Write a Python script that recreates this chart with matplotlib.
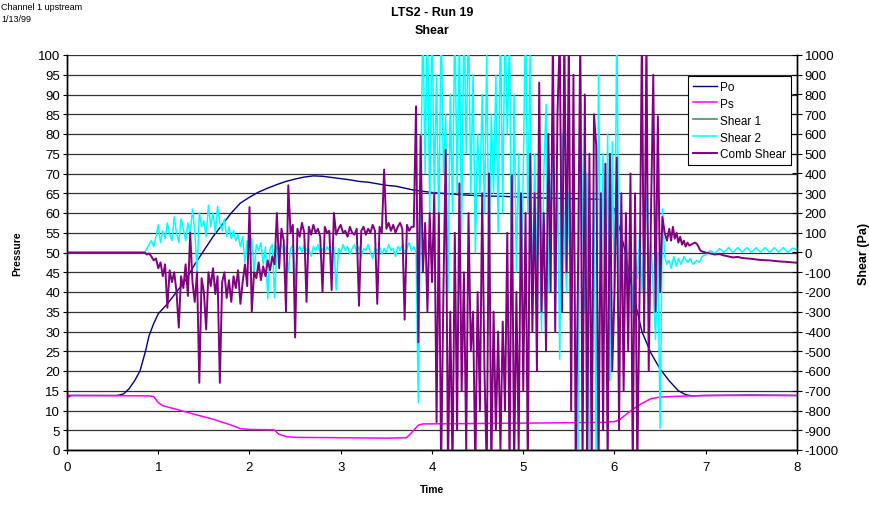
import numpy as np
import matplotlib
matplotlib.use('Agg')
import matplotlib.pyplot as plt

plt.rcParams['font.family'] = ['Liberation Sans', 'DejaVu Sans']
plt.rcParams['axes.unicode_minus'] = False

# Pressure traces (time, value)
po_t = [0, 0.55, 0.62, 0.68, 0.74, 0.8, 0.86, 0.9, 0.95, 1.0, 1.1, 1.2, 1.3, 1.4, 1.5,
        1.6, 1.7, 1.8, 1.9, 2.0, 2.1, 2.2, 2.3, 2.4, 2.5, 2.6, 2.7, 2.8, 2.9, 3.0,
        3.1, 3.2, 3.3, 3.4, 3.5, 3.6, 3.7, 3.8, 3.9, 4.0, 4.2, 4.4, 4.6, 4.8, 5.0,
        5.2, 5.4, 5.6, 5.8, 5.9, 6.0, 6.1, 6.2, 6.3, 6.4, 6.5, 6.6, 6.7, 6.78, 6.85,
        7.0, 7.5, 8.0]
po_v = [13.8, 13.8, 14.2, 15.5, 17.5, 20, 25, 29, 32, 34.5, 37, 40, 43, 47, 50.5,
        54, 57, 60, 62.5, 64, 65.3, 66.3, 67.2, 68, 68.6, 69.1, 69.4, 69.3, 69.0, 68.7,
        68.4, 68, 67.8, 67.4, 67, 66.8, 66.3, 65.8, 65.5, 65.2, 64.8, 64.5, 64.3, 64.2, 64,
        63.8, 63.7, 63.6, 63.5, 63.3, 61, 52, 40, 30, 24.5, 20.5, 17.5, 15, 14, 13.7,
        13.8, 13.9, 13.8]

ps_t = [0, 0.02, 0.05, 0.9, 0.95, 1.0, 1.05, 1.2, 1.4, 1.6, 1.8, 1.9, 2.0, 2.27, 2.32,
        2.4, 2.5, 3.0, 3.5, 3.72, 3.78, 3.85, 3.9, 4.5, 5.0, 5.5, 5.9, 6.0, 6.05, 6.1,
        6.2, 6.3, 6.4, 6.5, 6.7, 7.0, 8.0]
ps_v = [14.8, 13.4, 13.8, 13.7, 13.5, 12.0, 11.2, 10.3, 9.0, 7.8, 6.3, 5.4, 5.2, 5.1, 4.0,
        3.4, 3.2, 3.1, 3.0, 3.1, 4.5, 6.3, 6.6, 6.7, 6.8, 6.9, 7.0, 7.2, 7.6, 8.5,
        10.3, 11.8, 13.0, 13.4, 13.6, 13.8, 13.8]

# Shear traces: flat start, sampled middle section (0.85 - 6.575 s), tail
shear_head_t = [0, 0.85]
shear_head_v = [0, 0]

shear2_mid = [
    0, 20, 40, 60, 30, 80, 140, 50, 110, 70, 150, 90, 60, 180, 100, 50, 170, 120, 60, 150,
    90, 220, 110, -100, 200, 130, 160, 80, 240, 130, 200, 100, 235, 150, 110, 170, 80, 130, 70, 110,
    60, 90, 30, 80, -50, 60, 20, 70, -100, 40, 10, 50, -60, 30, -235, 20, 40, -230, 30, 10,
    40, 0, 30, -100, 20, 40, -150, 10, 30, 0, 40, 10, 20, -20, 30, 10, 40, -10, 20, 0,
    30, 10, -20, 30, -190, 20, 0, 40, 10, 30, -10, 20, 40, 0, 30, -20, 20, 10, 40, 0,
    -30, 20, 10, 30, -10, 20, 0, 40, 10, 20, -20, 30, 10, 40, 0, 20, 50, 10,
    # wild section from 3.80
    30, 0, -760, 300, 1200, 400, 1200, 200, 1200, 300, 900, 100, 1200, 400, 700, -200, 800, 200, 1200, 300,
    1100, 100, 1200, 500, 1200, 300, 900, 0, 600, 300, 800, 200, 1000, -100, 700, 300, 900, 100, 1200, 200,
    1200, 600, 1100, -300, 800, -100, 500, -200, 400, 1200, 200, 1000, -300, 500, -100, 300, -400, 400, 750, -200,
    300, 500, -300, 400, -540, 600, 100, -200, 300, -400, 500, -650, -1100, 960, 200, -300, 400, -1100, -1100, 300,
    -1100, 900, -200, 500, -400, 600, -650, 560, -300, 1200, -200, 200, -350, 100, -250, 50, -300, 0, -135, 100,
    -200, 50, 290, -100, 50, -200, -440, 0, -890, 220, -20, -60]

shear2_tail_t = [6.6, 6.62, 6.65, 6.68, 6.7, 6.73, 6.76, 6.8, 6.83, 6.86, 6.9, 6.93, 6.96, 7.0,
                 7.05, 7.1, 7.15, 7.2, 7.25, 7.3, 7.35, 7.4, 7.45, 7.5, 7.55, 7.6, 7.65, 7.7,
                 7.75, 7.8, 7.85, 7.9, 7.95, 8.0]
shear2_tail_v = [-40, -80, -20, -70, -30, -60, -20, -50, -30, -60, -40, -50, -20, -10,
                 10, -5, 20, 0, 25, 0, 25, 2, 25, 0, 24, 2, 25, 0,
                 24, 2, 25, 0, 22, 15]

comb_mid = [
    0, -10, -5, -20, -40, -30, -80, -50, -120, -60, -280, -90, -150, -100, -200, -380, -120, -180, -60, -220,
    100, -150, -250, -100, -660, -130, -200, -390, -100, -170, -80, -210, -120, -660, -150, -100, -230, -140, -250, -120,
    -180, -90, -260, -150, -60, -170, 230, -300, -100, -130, -50, -140, -70, -120, -40, -90, -20, -60, 200, -80,
    120, 60, -300, 340, 100, 140, -430, 120, 80, 150, 100, -250, 130, 90, 140, 100, 120, 80, -200, 130,
    100, 110, -190, 200, 90, 120, 140, 100, 110, 80, 130, 100, 90, 120, -270, 110, 130, 90, 120, 100,
    140, 110, -260, 130, 100, 420, 120, 150, 110, 140, 100, 130, 150, 120, -340, 140, 110, 130,
    # wild section from 3.80
    130, 740, -455, 590, -100, 150, -300, 200, -150, 300, -860, 200, -1100, -200, 520, -1100, -300, -1100, 100, -900,
    350, -700, -100, -1000, 200, -500, -300, -1100, -200, -800, 300, -600, -1100, 400, -1100, -300, -900, -400, -1000, -350,
    -800, 100, -1100, 390, -1100, -200, -1000, 300, -700, 200, -1100, 500, -400, 300, -600, 860, -300, 200, -500, 600,
    -200, 1100, -400, 700, 1100, -300, 1100, -100, 1100, -800, 900, -1100, -100, 1100, -1100, 800, -1100, 500, -1100, 700,
    540, -1100, 300, -900, 450, -1100, 500, -600, -200, 480, -900, 300, -700, 200, -500, 400, -1100, 300, -1100, -200,
    1100, -400, 1100, -600, 200, 900, -300, 690, -200, 180, 100, 60]

comb_tail_t = [6.6, 6.62, 6.64, 6.66, 6.68, 6.7, 6.72, 6.74, 6.76, 6.78, 6.8, 6.82, 6.84, 6.86,
               6.88, 6.9, 6.92, 6.94, 6.96, 7.0, 7.05, 7.1, 7.15, 7.2, 7.25, 7.3, 7.35, 7.4,
               7.5, 7.6, 7.7, 7.8, 7.9, 8.0]
comb_tail_v = [120, 60, 130, 70, 100, 50, 80, 40, 60, 30, 50, 35, 40, 45,
               50, 45, 30, 10, 5, 0, -5, -10, -8, -15, -20, -25, -22, -28,
               -32, -38, -40, -45, -48, -52]

# Shear 1 is not visible in the reference (only in the legend)
shear1_t = []
shear1_v = []

mid_t = np.linspace(0.85, 6.575, len(shear2_mid))
mid_t_comb = np.linspace(0.85, 6.575, len(comb_mid))

shear2_t = np.concatenate([shear_head_t, mid_t[1:], shear2_tail_t])
shear2_v = np.concatenate([shear_head_v, shear2_mid[1:], shear2_tail_v])
comb_t = np.concatenate([shear_head_t, mid_t_comb[1:], comb_tail_t])
comb_v = np.concatenate([shear_head_v, comb_mid[1:], comb_tail_v])

fig = plt.figure(figsize=(8.7, 5.06), dpi=100)
ax1 = fig.add_axes([67/870, 1 - 451/506, 730/870, 395/506])
ax2 = ax1.twinx()

l_po, = ax1.plot(po_t, po_v, color='#000080', lw=1.0, label='Po')
l_ps, = ax1.plot(ps_t, ps_v, color='#FF00FF', lw=1.1, label='Ps')
l_s1, = ax2.plot(shear1_t, shear1_v, color='#339966', lw=1.2, label='Shear 1')
l_s2, = ax2.plot(shear2_t, shear2_v, color='#00FFFF', lw=1.1, label='Shear 2')
l_cs, = ax2.plot(comb_t, comb_v, color='#800080', lw=1.4, label='Comb Shear')

ax1.set_xlim(0, 8)
ax1.set_ylim(0, 100)
ax2.set_ylim(-1000, 1000)
ax1.set_yticks(np.arange(0, 101, 5))
ax2.set_yticks(np.arange(-1000, 1001, 100))
ax1.set_xticks(range(0, 9))

ax1.grid(axis='y', color='#333333', lw=0.9)
ax1.set_axisbelow(True)

for ax in (ax1, ax2):
    ax.spines['top'].set_visible(False)
    for s in ax.spines.values():
        s.set_linewidth(1.0)
ax1.tick_params(axis='y', direction='out', length=3, labelsize=9.5, pad=2)
ax1.tick_params(axis='x', direction='out', length=3, labelsize=9.5, pad=5)
ax2.tick_params(axis='y', direction='inout', length=7, labelsize=9.5, pad=2)

ax1.set_xlabel('Time', fontsize=7.5, fontweight='bold', labelpad=8)
ax1.set_ylabel('Pressure', fontsize=7.5, fontweight='bold', labelpad=11)
ax2.set_ylabel('Shear (Pa)', fontsize=9, fontweight='bold', labelpad=14)

fig.text(432/870, 1 - 13/506, 'LTS2 - Run 19', ha='center', va='center', fontsize=9, fontweight='bold')
fig.text(432/870, 1 - 31/506, 'Shear', ha='center', va='center', fontsize=9, fontweight='bold')
fig.text(1/870, 1 - 8/506, 'Channel 1 upstream', ha='left', va='center', fontsize=6.5)
fig.text(1/870, 1 - 20/506, '1/13/99', ha='left', va='center', fontsize=6.5)

leg = ax2.legend(handles=[l_po, l_ps, l_s1, l_s2, l_cs], loc='upper left',
                 bbox_to_anchor=(0.851, 0.947), borderaxespad=0, fontsize=8.5,
                 fancybox=False, framealpha=1, edgecolor='black',
                 handlelength=2.0, handletextpad=0.3, labelspacing=0.42, borderpad=0.4)
leg.get_frame().set_linewidth(0.8)

fig.savefig('out.png', dpi=100)
